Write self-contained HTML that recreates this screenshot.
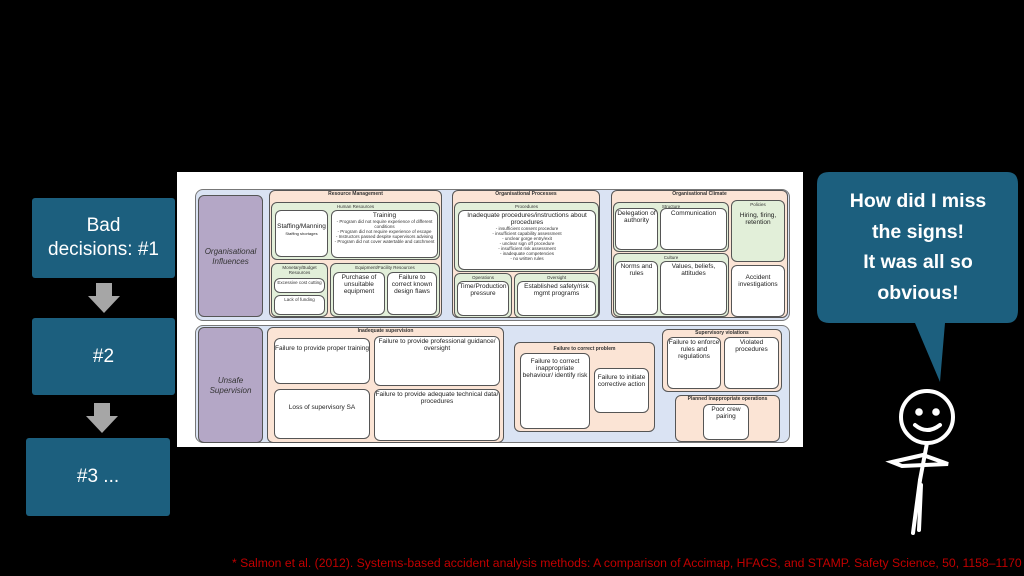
<!DOCTYPE html>
<html><head><meta charset="utf-8"><style>
*{margin:0;padding:0;box-sizing:border-box}
body{width:1024px;height:576px;background:#000;position:relative;overflow:hidden;font-family:"Liberation Sans",sans-serif}
.a{position:absolute}
.tb{position:absolute;background:#1c5f7e;color:#fff;display:flex;align-items:center;justify-content:center;text-align:center;font-size:19px;line-height:24px;border-radius:3px}
.arr{position:absolute;width:32px;height:30px}
.b{position:absolute;border:1px solid #555;border-radius:6px;font-size:4.5px;color:#333;text-align:center;line-height:5px;padding-top:1px;overflow:hidden}
.p{background:#fbe4d5}.g{background:#e2efd9}.w{background:#fff}.pu{background:#b4a7c6}
.h{font-weight:bold;font-size:5px}
.t{font-size:6.5px;line-height:7px;color:#222}
</style></head><body>
<div class="tb" style="left:32px;top:198px;width:143px;height:80px">Bad<br>decisions: #1</div>
<svg class="arr" style="left:88px;top:283px" viewBox="0 0 32 30"><polygon points="8,0 24,0 24,13 32,13 16,30 0,13 8,13" fill="#a6a6a6"/></svg>
<div class="tb" style="left:32px;top:318px;width:143px;height:77px">#2</div>
<svg class="arr" style="left:86px;top:403px" viewBox="0 0 32 30"><polygon points="8,0 24,0 24,13 32,13 16,30 0,13 8,13" fill="#a6a6a6"/></svg>
<div class="tb" style="left:26px;top:438px;width:144px;height:78px">#3 ...</div>

<div class="a" style="left:177px;top:172px;width:626px;height:275px;background:#fff"></div>
<div class="a" style="left:195px;top:189px;width:595px;height:132px;background:#dae3f3;border:1px solid #777;border-radius:8px"></div>
<div class="a" style="left:195px;top:325px;width:595px;height:118px;background:#dae3f3;border:1px solid #777;border-radius:8px"></div>
<div class="b pu" style="left:198px;top:195px;width:65px;height:122px;display:flex;align-items:center;justify-content:center;font-size:8px;line-height:10px;font-style:italic">Organisational<br>Influences</div>
<div class="b pu" style="left:198px;top:327px;width:65px;height:116px;display:flex;align-items:center;justify-content:center;font-size:8px;line-height:10px;font-style:italic">Unsafe<br>Supervision</div>

<div class="b p h" style="left:269px;top:190px;width:173px;height:128px">Resource Management</div>
<div class="b g" style="left:271px;top:202px;width:169px;height:58px">Human Resources</div>
<div class="b w t" style="left:275px;top:210px;width:53px;height:47px;padding-top:12px">Staffing/Manning<br><span style="font-size:4px">Staffing shortages</span></div>
<div class="b w" style="left:331px;top:210px;width:107px;height:48px"><span class="t">Training</span><br>- Program did not require experience of different conditions<br>- Program did not require experience of escape<br>- Instructors passed despite supervisors advising<br>- Program did not cover watertable and catchment</div>
<div class="b g" style="left:271px;top:263px;width:57px;height:54px">Monetary/Budget Resources</div>
<div class="b w" style="left:274px;top:278px;width:51px;height:15px">Excessive cost cutting</div>
<div class="b w" style="left:274px;top:295px;width:51px;height:20px">Lack of funding</div>
<div class="b g" style="left:330px;top:263px;width:110px;height:54px">Equipment/Facility Resources</div>
<div class="b w t" style="left:333px;top:272px;width:52px;height:43px">Purchase of unsuitable equipment</div>
<div class="b w t" style="left:387px;top:272px;width:50px;height:43px">Failure to correct known design flaws</div>

<div class="b p h" style="left:452px;top:190px;width:148px;height:128px">Organisational Processes</div>
<div class="b g" style="left:454px;top:202px;width:145px;height:70px">Procedures</div>
<div class="b w" style="left:458px;top:210px;width:138px;height:60px"><span class="t">Inadequate procedures/instructions about procedures</span><br>- insufficient consent procedure<br>- insufficient capability assessment<br>- unclear gorge entry/exit<br>- unclear sign off procedure<br>- insufficient risk assessment<br>- inadequate competencies<br>- no written rules</div>
<div class="b g" style="left:454px;top:273px;width:58px;height:45px">Operations</div>
<div class="b w t" style="left:457px;top:281px;width:52px;height:35px">Time/Production pressure</div>
<div class="b g" style="left:514px;top:273px;width:85px;height:45px">Oversight</div>
<div class="b w t" style="left:517px;top:281px;width:79px;height:35px">Established safety/risk mgmt programs</div>

<div class="b p h" style="left:611px;top:190px;width:177px;height:128px">Organisational Climate</div>
<div class="b g" style="left:613px;top:202px;width:116px;height:50px">Structure</div>
<div class="b w t" style="left:615px;top:208px;width:43px;height:42px">Delegation of authority</div>
<div class="b w t" style="left:660px;top:208px;width:67px;height:42px">Communication</div>
<div class="b g" style="left:613px;top:253px;width:116px;height:64px">Culture</div>
<div class="b w t" style="left:615px;top:261px;width:43px;height:54px">Norms and rules</div>
<div class="b w t" style="left:660px;top:261px;width:67px;height:54px">Values, beliefs, attitudes</div>
<div class="b g" style="left:731px;top:200px;width:54px;height:62px">Policies<br><br><span class="t">Hiring, firing, retention</span></div>
<div class="b w t" style="left:731px;top:265px;width:54px;height:52px;padding-top:8px">Accident investigations</div>

<div class="b p h" style="left:267px;top:327px;width:237px;height:116px">Inadequate supervision</div>
<div class="b w t" style="left:274px;top:338px;width:96px;height:46px;padding-top:6px">Failure to provide proper training</div>
<div class="b w t" style="left:374px;top:336px;width:126px;height:50px">Failure to provide professional guidance/ oversight</div>
<div class="b w t" style="left:274px;top:389px;width:96px;height:50px;padding-top:14px">Loss of supervisory SA</div>
<div class="b w t" style="left:374px;top:389px;width:126px;height:52px">Failure to provide adequate technical data/ procedures</div>
<div class="b p h" style="left:514px;top:342px;width:141px;height:90px;padding-top:4px">Failure to correct problem</div>
<div class="b w t" style="left:520px;top:353px;width:70px;height:76px;padding-top:4px">Failure to correct inappropriate behaviour/ identify risk</div>
<div class="b w t" style="left:594px;top:368px;width:55px;height:45px;padding-top:5px">Failure to initiate corrective action</div>
<div class="b p h" style="left:662px;top:329px;width:120px;height:63px">Supervisory violations</div>
<div class="b w t" style="left:667px;top:337px;width:54px;height:52px">Failure to enforce rules and regulations</div>
<div class="b w t" style="left:724px;top:337px;width:55px;height:52px">Violated procedures</div>
<div class="b p h" style="left:675px;top:395px;width:105px;height:47px">Planned inappropriate operations</div>
<div class="b w t" style="left:703px;top:404px;width:46px;height:36px">Poor crew pairing</div>

<svg class="a" style="left:815px;top:170px" width="205" height="215">
<path d="M14,2 H192 Q203,2 203,14 V140 Q203,153 192,153 H130 L125,212 L100,153 H14 Q2,153 2,140 V14 Q2,2 14,2 Z" fill="#1c5f7e"/>
</svg>
<div class="a" style="left:818px;top:186px;width:200px;text-align:center;color:#fff;font-weight:bold;font-size:19.5px;line-height:30.5px">How did I miss<br>the signs!<br>It was all so<br>obvious!</div>
<svg class="a" style="left:880px;top:385px" width="90" height="155" fill="none" stroke="#fff" stroke-width="4" stroke-linecap="round">
<circle cx="47" cy="32" r="26"/>
<circle cx="39" cy="27" r="1.8" fill="#fff"/><circle cx="56" cy="27" r="1.8" fill="#fff"/>
<path d="M35,40 Q47,50 60,40"/>
<path d="M47,58 L40,95"/>
<path d="M12,77 L43,70 L68,79 L22,81 Z"/>
<path d="M40,95 L33,148 M41,100 L39,145"/>
</svg>
<div class="a" style="left:232px;top:556px;color:#c00000;font-size:12.2px;white-space:nowrap">* Salmon et al. (2012). Systems-based accident analysis methods: A comparison of Accimap, HFACS, and STAMP. Safety Science, 50, 1158–1170</div>
</body></html>
